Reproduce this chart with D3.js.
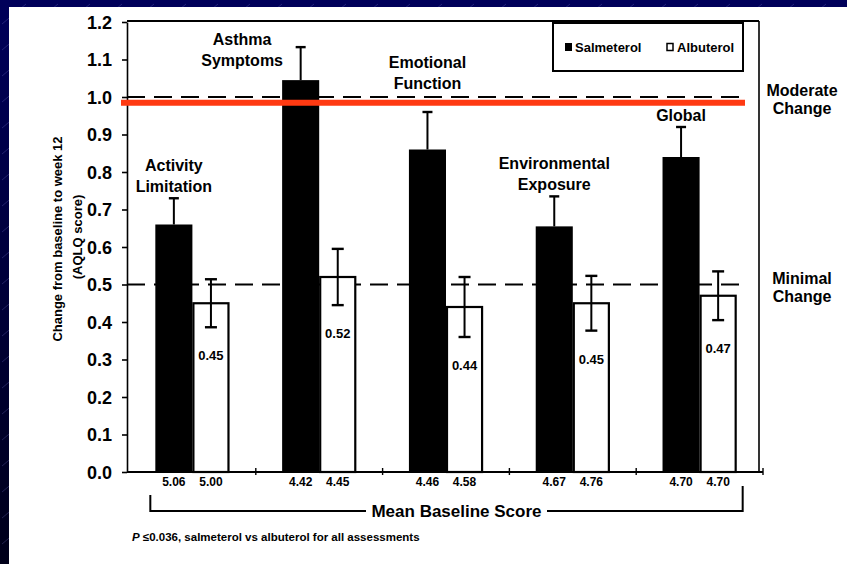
<!DOCTYPE html>
<html>
<head>
<meta charset="utf-8">
<script src="https://cdn.jsdelivr.net/npm/d3@7/dist/d3.min.js"></script>
<style>
  html, body { margin: 0; padding: 0; background: #000040; }
  svg { display: block; }
  text { font-family: "Liberation Sans", Arial, Helvetica, sans-serif; font-weight: bold; fill: #000; }
</style>
</head>
<body>
<svg id="chart" width="847" height="564"></svg>
<script>
// ---- data ----
const categories = ["Activity Limitation", "Asthma Symptoms", "Emotional Function", "Environmental Exposure", "Global"];
const categoryLines = [["Activity", "Limitation"], ["Asthma", "Symptoms"], ["Emotional", "Function"], ["Environmental", "Exposure"], ["Global"]];
const series = ["Salmeterol", "Albuterol"];
const salmeterol = [0.66, 1.045, 0.86, 0.655, 0.84];
const salmeterolErr = [0.07, 0.088, 0.10, 0.08, 0.08];
const albuterol = [0.45, 0.52, 0.44, 0.45, 0.47];
const albuterolErr = [0.064, 0.075, 0.08, 0.073, 0.065];
const baselineSalmeterol = ["5.06", "4.42", "4.46", "4.67", "4.70"];
const baselineAlbuterol = ["5.00", "4.45", "4.58", "4.76", "4.70"];
const yTicks = [0, 0.1, 0.2, 0.3, 0.4, 0.5, 0.6, 0.7, 0.8, 0.9, 1.0, 1.1, 1.2];
const thresholdValues = [1.0, 0.5];
const thresholdLabels = [["Moderate", "Change"], ["Minimal", "Change"]];
const highlightValue = 0.985;

// ---- setup ----
const W = 847, H = 564;
const svg = d3.select("#chart");
const defs = svg.append("defs");

const grad = defs.append("linearGradient").attr("id", "bg").attr("x1", 0).attr("y1", 0).attr("x2", 0).attr("y2", 1);
grad.append("stop").attr("offset", "0%").attr("stop-color", "#00005a");
grad.append("stop").attr("offset", "100%").attr("stop-color", "#00001a");

const pat = defs.append("pattern").attr("id", "streaks").attr("patternUnits", "userSpaceOnUse")
  .attr("width", 32).attr("height", 26);
pat.append("line").attr("x1", 2).attr("y1", 24).attr("x2", 26).attr("y2", 4)
  .attr("stroke", "#7a7ad0").attr("stroke-opacity", 0.35).attr("stroke-width", 0.8);

svg.append("rect").attr("width", W).attr("height", H).attr("fill", "url(#bg)");
svg.append("rect").attr("width", W).attr("height", H).attr("fill", "url(#streaks)");
svg.append("rect").attr("x", 9).attr("y", 7).attr("width", W - 9).attr("height", H - 7).attr("fill", "#fff");

// ---- scales ----
const y = d3.scaleLinear().domain([0, 1.2]).range([472, 22]);
const x = d3.scaleBand().domain(categories).range([129, 763]).paddingInner(0).paddingOuter(0);
const xs = d3.scaleBand().domain(series).range([0, x.bandwidth()]).paddingInner(0).paddingOuter(0.71);
const bw = xs.bandwidth();
const axisX = 127, frameRight = 759;

const g = svg.append("g");

// ---- frame ----
g.append("line").attr("x1", axisX).attr("x2", frameRight).attr("y1", y(1.2) - 1).attr("y2", y(1.2) - 1)
  .attr("stroke", "#000").attr("stroke-width", 2);
g.append("line").attr("x1", frameRight).attr("x2", frameRight).attr("y1", y(1.2) - 1).attr("y2", y(0))
  .attr("stroke", "#000").attr("stroke-width", 1.6);

// y axis
const yAxis = g.append("g").attr("transform", `translate(${axisX},0)`)
  .call(d3.axisLeft(y).tickValues(yTicks).tickFormat(d3.format(".1f")).tickSize(5).tickSizeOuter(0).tickPadding(10));
yAxis.select(".domain").attr("stroke-width", 1.6);
yAxis.selectAll(".tick line").attr("stroke-width", 1.6);
yAxis.selectAll(".tick text").style("font-size", "18px").style("font-family", "'Liberation Sans', Arial, sans-serif")
  .style("font-weight", "bold").attr("dy", "0.36em");

// x baseline with group dividers
g.append("line").attr("x1", axisX).attr("x2", x.range()[1]).attr("y1", y(0)).attr("y2", y(0))
  .attr("stroke", "#000").attr("stroke-width", 2.2);
const edges = categories.slice(1).map(c => x(c)).concat([x.range()[1]]);
g.selectAll(".xtick").data(edges).join("line")
  .attr("x1", d => d).attr("x2", d => d).attr("y1", y(0) - 4).attr("y2", y(0) + 3)
  .attr("stroke", "#000").attr("stroke-width", 1.4);

// ---- reference dashed lines ----
thresholdValues.forEach((v, i) => {
  g.append("line").attr("x1", axisX).attr("x2", 748).attr("y1", y(v)).attr("y2", y(v))
    .attr("stroke", "#000").attr("stroke-width", 2).attr("stroke-dasharray", "18,9");
  const t = g.append("text").attr("text-anchor", "middle").style("font-size", "16px");
  thresholdLabels[i].forEach((s, k) => {
    t.append("tspan").attr("x", 802).attr("y", y(v) - 1 + k * 18).text(s);
  });
});

// ---- bars ----
const rows = categories.map((c, i) => ({
  c, i,
  s: salmeterol[i], se: salmeterolErr[i],
  a: albuterol[i], ae: albuterolErr[i]
}));

const sx = d => x(d.c) + xs("Salmeterol");
const ax = d => x(d.c) + xs("Albuterol");

// salmeterol (solid)
g.selectAll(".bar-s").data(rows).join("rect")
  .attr("x", sx).attr("width", bw)
  .attr("y", d => y(d.s)).attr("height", d => y(0) - y(d.s))
  .attr("fill", "#000");

// albuterol (open)
g.selectAll(".bar-a").data(rows).join("rect")
  .attr("x", d => ax(d) + 1).attr("width", bw - 2)
  .attr("y", d => y(d.a)).attr("height", d => y(0) - y(d.a))
  .attr("fill", "#fff").attr("stroke", "#000").attr("stroke-width", 2.2);

// error bars: salmeterol (upper arm shows above the bar)
rows.forEach(d => {
  const cx = sx(d) + bw / 2;
  g.append("line").attr("x1", cx).attr("x2", cx).attr("y1", y(d.s)).attr("y2", y(d.s + d.se))
    .attr("stroke", "#000").attr("stroke-width", 2);
  g.append("line").attr("x1", cx - 5).attr("x2", cx + 5).attr("y1", y(d.s + d.se)).attr("y2", y(d.s + d.se))
    .attr("stroke", "#000").attr("stroke-width", 2.4);
});

// error bars: albuterol
rows.forEach(d => {
  const cx = ax(d) + bw / 2;
  g.append("line").attr("x1", cx).attr("x2", cx).attr("y1", y(d.a - d.ae)).attr("y2", y(d.a + d.ae))
    .attr("stroke", "#000").attr("stroke-width", 2);
  [d.a - d.ae, d.a + d.ae].forEach(v => {
    g.append("line").attr("x1", cx - 6).attr("x2", cx + 6).attr("y1", y(v)).attr("y2", y(v))
      .attr("stroke", "#000").attr("stroke-width", 2.4);
  });
  g.append("text").attr("x", cx).attr("y", y(d.a - d.ae) + 33).attr("text-anchor", "middle")
    .style("font-size", "13px").text(d3.format(".2f")(d.a));
});

// baseline scores under each bar
rows.forEach(d => {
  g.append("text").attr("x", sx(d) + bw / 2).attr("y", 486).attr("text-anchor", "middle")
    .style("font-size", "12px").text(baselineSalmeterol[d.i]);
  g.append("text").attr("x", ax(d) + bw / 2).attr("y", 486).attr("text-anchor", "middle")
    .style("font-size", "12px").text(baselineAlbuterol[d.i]);
});

// category labels above the salmeterol error bars
rows.forEach(d => {
  const lines = categoryLines[d.i];
  const cap = y(d.s + d.se);
  const lh = 21;
  let cx = sx(d) + bw / 2;
  let last = cap - 6;
  let first = last - lh * (lines.length - 1);
  const bandTop = y(thresholdValues[0]) - 2, bandBottom = y(highlightValue) + 3;
  if (first - 14 < y(1.2)) {
    // no room above the plot top: set beside the bar
    cx = sx(d) - 40;
    first = cap - 2;
  } else if (first - 12 < bandBottom && last + 3 > bandTop) {
    // keep clear of the reference lines
    last = y(thresholdValues[0]) - 8;
    first = last - lh * (lines.length - 1);
  }
  const t = g.append("text").attr("text-anchor", "middle").style("font-size", "16px");
  lines.forEach((s, k) => t.append("tspan").attr("x", cx).attr("y", first + k * lh).text(s));
});

// ---- highlight line ----
g.append("line").attr("x1", 121).attr("x2", 745).attr("y1", y(highlightValue)).attr("y2", y(highlightValue))
  .attr("stroke", "#ff3a12").attr("stroke-width", 6);

// ---- legend ----
const lg = g.append("g");
lg.append("rect").attr("x", 553).attr("y", 23).attr("width", 190).attr("height", 48)
  .attr("fill", "none").attr("stroke", "#000").attr("stroke-width", 2);
lg.append("rect").attr("x", 565).attr("y", 43).attr("width", 7).attr("height", 8).attr("fill", "#000");
lg.append("text").attr("x", 575).attr("y", 52).style("font-size", "13px").text(series[0]);
lg.append("rect").attr("x", 667).attr("y", 43.5).attr("width", 6).attr("height", 7)
  .attr("fill", "#fff").attr("stroke", "#000").attr("stroke-width", 1.5);
lg.append("text").attr("x", 677).attr("y", 52).style("font-size", "13px").text(series[1]);

// ---- y axis title ----
g.append("text").attr("transform", "translate(62,239) rotate(-90)")
  .attr("text-anchor", "middle").style("font-size", "13px").text("Change from baseline to week 12");
g.append("text").attr("transform", "translate(82,237) rotate(-90)")
  .attr("text-anchor", "middle").style("font-size", "13px").text("(AQLQ score)");

// ---- mean baseline score bracket ----
const bl = sx(rows[0]) - 5;
const br = ax(rows[rows.length - 1]) + bw + 6;
const by = 511;
g.append("path").attr("d", `M${bl},495 V${by} H366`).attr("fill", "none").attr("stroke", "#000").attr("stroke-width", 2);
g.append("path").attr("d", `M547,${by} H${br} V486`).attr("fill", "none").attr("stroke", "#000").attr("stroke-width", 2);
g.append("text").attr("x", 456.5).attr("y", 517).attr("text-anchor", "middle").style("font-size", "17px").text("Mean Baseline Score");

// ---- footnote ----
const fn = g.append("text").attr("x", 132).attr("y", 541).style("font-size", "11.5px");
fn.append("tspan").style("font-style", "italic").text("P");
fn.append("tspan").text(" \u22640.036, salmeterol vs albuterol for all assessments");
</script>
</body>
</html>
